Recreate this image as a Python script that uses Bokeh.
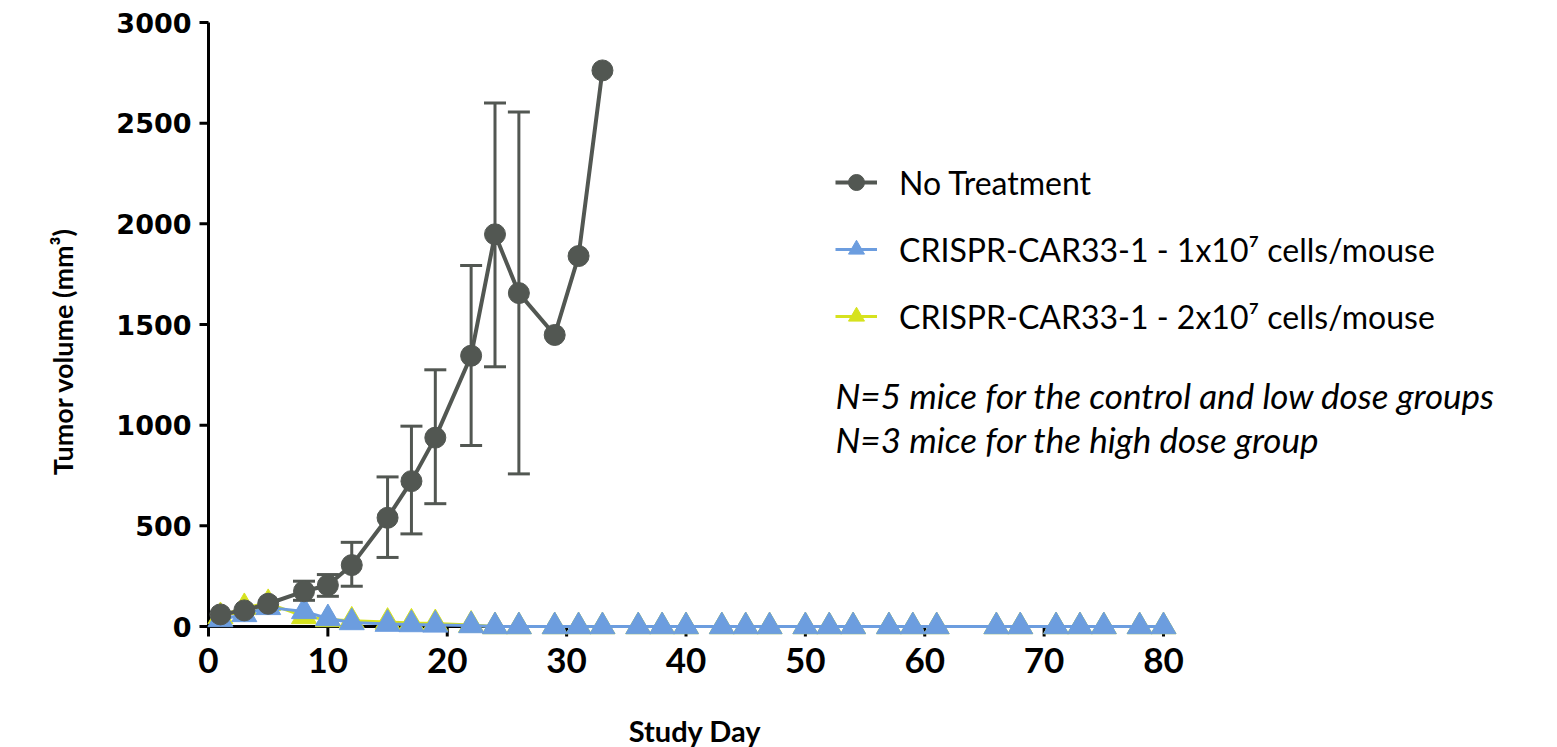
import math
from bokeh.plotting import figure
from bokeh.models import (ColumnDataSource, Whisker, TeeHead, Legend, LegendItem,
                          Label, Range1d)
from bokeh.core.properties import value
from bokeh.embed import file_html
from bokeh.resources import INLINE

# ---------------- data ----------------
nt_days = [1, 3, 5, 8, 10, 12, 15, 17, 19, 22, 24, 26, 29, 31, 33]
nt_vol = [60, 80, 113, 175, 205, 305, 540, 722, 938, 1345, 1948, 1656, 1448, 1840, 2762]
nt_upper = [None, None, None, 225, 258, 418, 743, 995, 1275, 1793, 2600, 2555, None, None, None]
nt_lower = [None, None, None, 130, 150, 200, 343, 460, 610, 899, 1290, 758, None, None, None]

low_days = [1, 3, 5, 8, 10, 12, 15, 17, 19, 22, 24, 26, 29, 31, 33, 36, 38, 40, 43, 45,
            47, 50, 52, 54, 57, 59, 61, 66, 68, 71, 73, 75, 78, 80]
low_vol = [35, 60, 95, 75, 40, 20, 12, 10, 8, 5, 0, 0, 0, 0, 0, 0, 0, 0, 0, 0,
           0, 0, 0, 0, 0, 0, 0, 0, 0, 0, 0, 0, 0, 0]

high_days = [1, 3, 5, 8, 10, 12, 15, 17, 19, 22, 24, 26, 29, 31, 33, 36, 38, 40, 43, 45,
             47, 50, 52, 54, 57, 59, 61, 66, 68, 71, 73, 75, 78, 80]
high_vol = [50, 95, 115, 50, 35, 28, 22, 18, 15, 8, 0, 0, 0, 0, 0, 0, 0, 0, 0, 0,
            0, 0, 0, 0, 0, 0, 0, 0, 0, 0, 0, 0, 0, 0]

series_names = ["No Treatment",
                "CRISPR-CAR33-1 - 1x10\u2077 cells/mouse",
                "CRISPR-CAR33-1 - 2x10\u2077 cells/mouse"]
y_ticks = [0, 500, 1000, 1500, 2000, 2500, 3000]
y_tick_labels = ["0", "500", "1000", "1500", "2000", "2500", "3000"]
x_ticks = [0, 10, 20, 30, 40, 50, 60, 70, 80]
x_tick_labels = ["0", "10", "20", "30", "40", "50", "60", "70", "80"]
x_title = "Study Day"
y_title = "Tumor volume (mm\u00b3)"
notes = ["N=5 mice for the control and low dose groups",
         "N=3 mice for the high dose group"]

GRAY = "#525752"
BLUE = "#6C9DDF"
YELLOW = "#D6E21E"

# ---------------- layout (frame covers the whole canvas) ----------------
W, H = 1557, 747
X0_PX, X80_PX = 208, 1163        # pixel columns of day 0 and day 80
Y0_PX, Y3000_PX = 626, 22        # pixel rows of 0 and 3000
px_per_day = (X80_PX - X0_PX) / 80
px_per_unit = (Y0_PX - Y3000_PX) / 3000
x_start = -X0_PX / px_per_day
x_end = (W - X0_PX) / px_per_day
y_end = 3000 + Y3000_PX / px_per_unit
y_start = -(H - Y0_PX) / px_per_unit

p = figure(width=W, height=H, output_backend="svg", toolbar_location=None,
           x_range=Range1d(x_start, x_end), y_range=Range1d(y_start, y_end),
           min_border=0)
p.outline_line_color = None
p.xgrid.visible = False
p.ygrid.visible = False
p.xaxis.visible = False
p.yaxis.visible = False
p.background_fill_color = "white"
p.border_fill_color = "white"

# ---- x axis (from the tick list)
p.line(x=[x_ticks[0], x_ticks[-1]], y=[0, 0], line_color="black", line_width=3)
p.ray(x=x_ticks, y=[0] * len(x_ticks), length=10, length_units="screen",
      angle=-math.pi / 2, line_color="black", line_width=3)
p.text(x=x_ticks, y=[0] * len(x_ticks), text=x_tick_labels, y_offset=34,
       text_align="center", text_baseline="middle", text_font=value("Lato"),
       text_font_style="bold", text_font_size="35px", text_color="black")
p.text(x=[(x_ticks[0] + x_ticks[-1]) / 2], y=[0], text=[x_title], x_offset=9,
       y_offset=104, text_align="center", text_baseline="middle",
       text_font=value("Lato"), text_font_style="bold", text_font_size="29px",
       text_color="black")

# ---- y axis (from the tick list)
p.line(x=[0, 0], y=[y_ticks[0], y_ticks[-1]], line_color="black", line_width=3)
p.ray(x=[0] * len(y_ticks), y=y_ticks, length=9, length_units="screen",
      angle=math.pi, line_color="black", line_width=3)
p.text(x=[0] * len(y_ticks), y=y_ticks, text=y_tick_labels, x_offset=-17,
       text_align="right", text_baseline="middle", text_font=value("DejaVu Sans"),
       text_font_style="bold", text_font_size="27px", text_color="black")
p.add_layout(Label(x=62, y=H - 351, x_units="screen", y_units="screen",
                   text=y_title, angle=math.pi / 2, text_align="center",
                   text_baseline="middle", text_font="Lato",
                   text_font_style="bold", text_font_size="27px",
                   text_color="black"))

# ---- high dose (yellow) - drawn first
hs = ColumnDataSource(dict(x=high_days, y=high_vol))
hl = p.line("x", "y", source=hs, line_color=YELLOW, line_width=3)
hm = p.scatter("x", "y", source=hs, marker="triangle", size=25, fill_color=YELLOW,
               line_color=YELLOW)

# ---- low dose (blue)
ls = ColumnDataSource(dict(x=low_days, y=low_vol))
ll = p.line("x", "y", source=ls, line_color=BLUE, line_width=3)
lm = p.scatter("x", "y", source=ls, marker="triangle", size=25, fill_color=BLUE,
               line_color=BLUE)

# ---- error bars for no treatment
eb = [(d, u, l) for d, u, l in zip(nt_days, nt_upper, nt_lower) if u is not None]
es = ColumnDataSource(dict(x=[e[0] for e in eb], upper=[e[1] for e in eb],
                           lower=[e[2] for e in eb]))
w = Whisker(source=es, base="x", upper="upper", lower="lower",
            line_color=GRAY, line_width=3, level="underlay",
            upper_head=TeeHead(size=22, line_color=GRAY, line_width=3),
            lower_head=TeeHead(size=22, line_color=GRAY, line_width=3))
p.add_layout(w)

ns = ColumnDataSource(dict(x=nt_days, y=nt_vol))
nl = p.line("x", "y", source=ns, line_color=GRAY, line_width=4)
nm = p.scatter("x", "y", source=ns, marker="circle", size=21, fill_color=GRAY,
               line_color=GRAY)

# ---- legend
legend = Legend(items=[
    LegendItem(label=series_names[0], renderers=[nl, nm]),
    LegendItem(label=series_names[1], renderers=[ll, lm]),
    LegendItem(label=series_names[2], renderers=[hl, hm]),
], location=(835, H - 336), orientation="vertical")
legend.border_line_color = None
legend.background_fill_alpha = 0
legend.padding = 0
legend.margin = 0
legend.spacing = 27
legend.glyph_width = 42
legend.glyph_height = 40
legend.label_height = 40
legend.label_standoff = 22
legend.label_text_font = "Lato"
legend.label_text_font_size = "32px"
legend.label_text_color = "black"
p.add_layout(legend, "center")

for txt, yy in zip(notes, [H - 397 + 3, H - 441 + 3]):
    p.add_layout(Label(x=835, y=yy, x_units="screen", y_units="screen", text=txt,
                       text_font="Lato", text_font_style="italic",
                       text_font_size="35px", text_baseline="middle",
                       text_color="black"))

open("out.html", "w").write(file_html(p, INLINE))
